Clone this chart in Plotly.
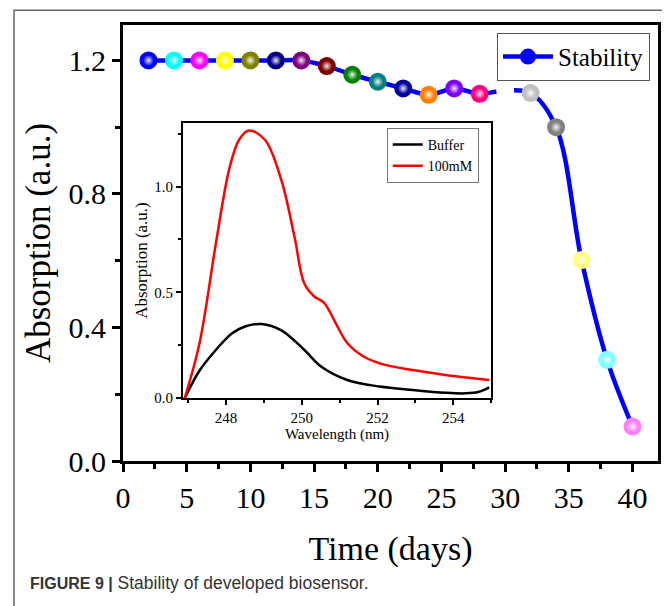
import plotly.graph_objects as go

# ---- main stability data ----
days = [2, 4, 6, 8, 10, 12, 14, 16, 18, 20, 22, 24, 26, 28, 30, 32, 34, 36, 38, 40]
absorption = [1.20, 1.20, 1.20, 1.20, 1.20, 1.20, 1.20, 1.183, 1.157, 1.136,
              1.116, 1.097, 1.116, 1.100, 1.11, 1.102, 1.00, 0.602, 0.303, 0.103]
point_colors = ["#0000FF", "#00FFFF", "#FF00FF", "#FFFF00", "#808000", "#000080",
                "#800080", "#800000", "#008000", "#008080", "#0000A0", "#FF8000",
                "#8000FF", "#FF0080", "#FFFFFF", "#C0C0C0", "#808080", "#FFFF80",
                "#80FFFF", "#FF80FF"]

# ---- inset spectra ----
buf_wl = [246.91, 247.3, 247.73, 248.16, 248.5, 248.94, 249.46, 250.07, 250.5,
          251.2, 252.06, 252.93, 253.79, 254.31, 254.66, 254.95]
buf_abs = [0.0, 0.13, 0.227, 0.306, 0.338, 0.35, 0.32, 0.227, 0.15,
           0.085, 0.054, 0.038, 0.025, 0.022, 0.028, 0.05]
red_wl = [246.91, 247.3, 247.73, 248.08, 248.34, 248.6, 249.03, 249.46, 249.81,
          250.07, 250.33, 250.59, 250.85, 251.2, 251.63, 252.06, 252.93, 253.79, 254.95]
red_abs = [0.0, 0.26, 0.73, 1.08, 1.22, 1.265, 1.22, 1.03, 0.76,
           0.54, 0.48, 0.45, 0.37, 0.26, 0.196, 0.164, 0.132, 0.109, 0.085]

serif = "Liberation Serif"

fig = go.Figure()

fig.add_trace(go.Scatter(
    x=days, y=absorption, mode="lines+markers", name="Stability",
    line=dict(color="#0000FF", width=4.5, shape="spline"),
    marker=dict(size=18, color=point_colors, line=dict(width=0)),
    legend="legend",
))
# specular highlight on the spheres
fig.add_trace(go.Scatter(
    x=days, y=absorption, mode="markers", showlegend=False, hoverinfo="skip",
    marker=dict(size=11, color="rgba(255,255,255,0)", line=dict(width=0),
                gradient=dict(type="radial", color="rgba(255,255,255,0.9)")),
))

fig.add_trace(go.Scatter(
    x=buf_wl, y=buf_abs, mode="lines", name="Buffer",
    line=dict(color="black", width=2.5, shape="spline"),
    xaxis="x2", yaxis="y2", legend="legend2",
))
fig.add_trace(go.Scatter(
    x=red_wl, y=red_abs, mode="lines", name="100mM",
    line=dict(color="#FF0000", width=2.5, shape="spline"),
    xaxis="x2", yaxis="y2", legend="legend2",
))

axis_common = dict(showline=True, linecolor="black", mirror=True, showgrid=False,
                   zeroline=False, ticks="outside", tickcolor="black", automargin=False)

fig.update_layout(
    width=662, height=598,
    margin=dict(l=115, r=12, t=17, b=145),
    paper_bgcolor="white", plot_bgcolor="white",
    font=dict(family=serif, color="black"),
    xaxis=dict(**axis_common, range=[0, 42], tick0=0, dtick=5, linewidth=3,
               ticklen=8, tickwidth=2.5,
               minor=dict(ticks="outside", dtick=2.5, ticklen=5, tickwidth=2.5, tickcolor="black"),
               tickfont=dict(family=serif, size=30),
               title=dict(text="Time (days)", font=dict(family=serif, size=34), standoff=24)),
    yaxis=dict(**axis_common, range=[0, 1.306], tick0=0, dtick=0.4, tickformat=".1f",
               linewidth=3, ticklen=8, tickwidth=2.5,
               minor=dict(ticks="outside", dtick=0.2, ticklen=5, tickwidth=2.5, tickcolor="black"),
               tickfont=dict(family=serif, size=30),
               title=dict(text="Absorption (a.u.)", font=dict(family=serif, size=35), standoff=8)),
    xaxis2=dict(**axis_common, domain=[0.112, 0.688], anchor="y2", range=[246.86, 255],
                tick0=248, dtick=2, linewidth=2, ticklen=5, tickwidth=1.5,
                minor=dict(ticks="outside", dtick=1, ticklen=3, tickwidth=1.5, tickcolor="black"),
                tickfont=dict(family=serif, size=15),
                title=dict(text="Wavelength (nm)", font=dict(family=serif, size=15), standoff=2)),
    yaxis2=dict(**axis_common, domain=[0.1445, 0.775], anchor="x2", range=[0, 1.3],
                tick0=0, dtick=0.5, tickformat=".1f", linewidth=2, ticklen=5, tickwidth=1.5,
                minor=dict(ticks="outside", dtick=0.25, ticklen=3, tickwidth=1.5, tickcolor="black"),
                tickfont=dict(family=serif, size=15),
                title=dict(text="Absorption (a.u.)", font=dict(family=serif, size=17), standoff=2)),
    legend=dict(x=0.985, y=0.982, xanchor="right", yanchor="top",
                bgcolor="white", bordercolor="#555", borderwidth=1,
                font=dict(family=serif, size=25), itemwidth=50),
    legend2=dict(x=0.493, y=0.764, xanchor="left", yanchor="top",
                 bgcolor="white", bordercolor="#777", borderwidth=1,
                 font=dict(family=serif, size=14), tracegroupgap=0, itemwidth=30),
    showlegend=True,
)

fig.add_shape(type="rect", xref="paper", yref="paper",
              x0=-0.2037, x1=1.017, y0=-0.4, y1=1.034,
              line=dict(color="#666", width=1.5), fillcolor="rgba(0,0,0,0)", layer="below")

fig.add_annotation(
    xref="paper", yref="paper", x=-0.1776, y=-0.28, xanchor="left", yanchor="middle",
    showarrow=False, align="left",
    text="<b>FIGURE 9 |</b><span style='font-size:17.5px'> Stability of developed biosensor.</span>",
    font=dict(family="Liberation Sans", size=16, color="#333"),
)

fig.write_html("out.html")
